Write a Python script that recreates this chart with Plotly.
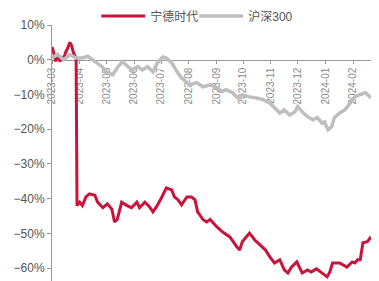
import plotly.graph_objects as go

# 宁德时代 cumulative return (%)
catl_dates = ["2023-03-01","2023-03-03","2023-03-05","2023-03-07","2023-03-10","2023-03-12","2023-03-14",
              "2023-03-16","2023-03-18","2023-03-21","2023-03-23","2023-03-25","2023-03-28","2023-03-29",
              "2023-04-01","2023-04-04","2023-04-08","2023-04-12","2023-04-18","2023-04-21","2023-04-27",
              "2023-05-02","2023-05-07","2023-05-10","2023-05-13","2023-05-18","2023-05-24","2023-05-29",
              "2023-06-04","2023-06-07","2023-06-13","2023-06-18","2023-06-22","2023-06-26","2023-07-02",
              "2023-07-07","2023-07-13","2023-07-16","2023-07-20","2023-07-24","2023-07-30","2023-08-04",
              "2023-08-08","2023-08-11","2023-08-17","2023-08-21","2023-08-25","2023-09-01","2023-09-08",
              "2023-09-16","2023-09-24","2023-09-27","2023-09-30","2023-10-08","2023-10-14","2023-10-20",
              "2023-10-26","2023-10-31","2023-11-05","2023-11-11","2023-11-16","2023-11-20","2023-11-24",
              "2023-11-30","2023-12-03","2023-12-06","2023-12-12","2023-12-16","2023-12-22","2023-12-28",
              "2024-01-03","2024-01-06","2024-01-09","2024-01-17","2024-01-25","2024-01-31","2024-02-03",
              "2024-02-06","2024-02-09","2024-02-12","2024-02-17","2024-02-20","2024-02-24","2024-02-28"]
catl_values = [3.7, 2.0, -0.5, 1.5, -0.5, 1.0, 0.0,
               2.0, 3.0, 5.0, 4.0, 2.0, 0.5, -42.0,
               -41.0, -42.0, -39.5, -38.6, -39.0, -41.0, -42.6,
               -41.5, -43.0, -46.7, -46.0, -41.0, -42.0, -42.6,
               -41.0, -42.6, -41.0, -42.3, -43.8, -42.3, -39.5,
               -36.9, -37.5, -39.5, -40.3, -41.8, -39.5, -39.5,
               -40.3, -43.8, -46.0, -46.7, -46.0, -48.0, -49.6,
               -51.0, -53.9, -54.8, -52.4, -49.9, -51.9, -53.3,
               -54.8, -56.8, -58.5, -57.6, -60.5, -61.4, -59.7,
               -58.2, -59.7, -61.4, -60.5, -61.1, -60.2, -61.4,
               -62.5, -61.1, -58.5, -58.5, -59.7, -58.2, -58.5,
               -57.6, -57.6, -52.7, -52.4, -51.3, -51.9, -51.0]

# 沪深300 cumulative return (%)
hs300_dates = ["2023-03-01","2023-03-07","2023-03-14","2023-03-21","2023-03-28","2023-04-04","2023-04-10",
               "2023-04-20","2023-04-26","2023-05-01","2023-05-08","2023-05-13","2023-05-19","2023-05-25",
               "2023-05-30","2023-06-05","2023-06-10","2023-06-16","2023-06-22","2023-06-27","2023-07-03",
               "2023-07-07","2023-07-13","2023-07-19","2023-07-24","2023-07-30","2023-08-02","2023-08-10",
               "2023-08-17","2023-08-25","2023-09-01","2023-09-07","2023-09-12","2023-09-19","2023-09-25",
               "2023-09-30","2023-10-08","2023-10-16","2023-10-23","2023-10-31","2023-11-07","2023-11-11",
               "2023-11-16","2023-11-22","2023-11-28","2023-12-01","2023-12-06","2023-12-12","2023-12-18",
               "2023-12-23","2023-12-28","2023-12-31","2024-01-04","2024-01-08","2024-01-11","2024-01-17",
               "2024-01-23","2024-01-29","2024-02-03","2024-02-09","2024-02-15","2024-02-20","2024-02-24",
               "2024-02-28"]
hs300_values = [0.5, 1.5, 0.0, 1.5, 0.5, 0.5, 1.0,
                -1.0, -2.0, -3.5, -4.3, -2.3, -0.5, -2.0,
                -2.9, -2.0, -2.9, -2.0, -3.5, -0.9, 0.8,
                0.5, -0.9, -3.5, -5.2, -6.6, -7.2, -6.6,
                -7.8, -7.2, -8.0, -9.2, -8.6, -9.5, -11.0,
                -10.1, -10.7, -11.0, -11.5, -12.5, -14.4, -15.3,
                -14.4, -15.9, -15.0, -13.5, -15.0, -16.4, -17.3,
                -16.7, -18.2, -17.9, -20.2, -19.3, -16.7, -15.3,
                -14.4, -12.4, -10.7, -10.0, -9.5, -10.7, -11.0,
                -12.0]

month_ticks = ["2023-03-01","2023-04-01","2023-05-01","2023-06-01","2023-07-01","2023-08-01",
               "2023-09-01","2023-10-01","2023-11-01","2023-12-01","2024-01-01","2024-02-01"]
month_labels = ["2023-03","2023-04","2023-05","2023-06","2023-07","2023-08",
                "2023-09","2023-10","2023-11","2023-12","2024-01","2024-02"]

y_min, y_max = -0.637, 0.10

fig = go.Figure()
fig.add_trace(go.Scatter(x=catl_dates, y=[v / 100 for v in catl_values], mode="lines",
                         name="宁德时代", line=dict(color="#C8143C", width=3)))
fig.add_trace(go.Scatter(x=hs300_dates, y=[v / 100 for v in hs300_values], mode="lines",
                         name="沪深300", line=dict(color="#BEBEBE", width=3.5)))

font_family = "Liberation Sans, Arial, Noto Sans CJK SC, sans-serif"

# the page body has an 8px default margin, so the figure is 8px smaller than the window
fig.update_layout(
    width=371, height=273,
    margin=dict(l=44, r=0, t=17, b=0, autoexpand=False),
    paper_bgcolor="white", plot_bgcolor="white",
    font=dict(family=font_family, color="#555555", size=12),
    showlegend=True,
    legend=dict(orientation="h", x=0.435, xanchor="center", y=1.0 + 9 / 256, yanchor="middle",
                font=dict(size=12, color="#555555"), itemwidth=44, entrywidth=39,
                bgcolor="rgba(0,0,0,0)"),
    xaxis=dict(
        type="date",
        range=["2023-03-01", "2024-03-01"],
        anchor="free", position=(0 - y_min) / (y_max - y_min),
        showline=True, linecolor="#999999", linewidth=1,
        ticks="outside", ticklen=3, tickcolor="#999999",
        tickvals=month_ticks, ticktext=month_labels,
        tickangle=-90, tickfont=dict(size=10, color="#8c8c8c"),
        showgrid=False, zeroline=False, layer="below traces",
    ),
    yaxis=dict(
        range=[y_min, y_max],
        dtick=0.1, tick0=0, tickformat=".0%",
        showline=True, linecolor="#999999", linewidth=1,
        ticks="outside", ticklen=4, tickcolor="#999999",
        tickfont=dict(size=12, color="#555555"),
        showgrid=False, zeroline=False,
    ),
)

fig.write_html("out.html")
